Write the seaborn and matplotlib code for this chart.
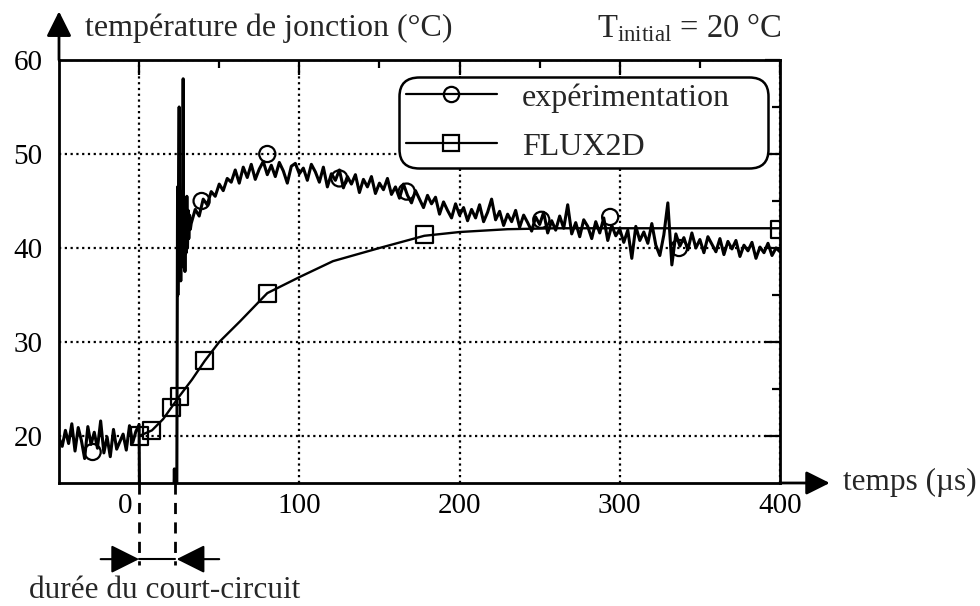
import numpy as np
import pandas as pd
import seaborn as sns
import matplotlib.pyplot as plt
import matplotlib.transforms as mtransforms
from matplotlib.lines import Line2D

sns.set_theme(style="white")
plt.rcParams["font.family"] = ["Liberation Serif", "DejaVu Serif"]
plt.rcParams["mathtext.fontset"] = "custom"
plt.rcParams["mathtext.rm"] = "Liberation Serif"
plt.rcParams["mathtext.it"] = "Liberation Serif:italic"

# measured junction temperature (noisy scope trace)
# before the short-circuit, sampled every 2 us from -50 to -2
pre_t = np.arange(-50, -1, 2)
pre_y = [19.8, 18.9, 20.6, 19.2, 21.3, 18.4, 20.9, 19.5, 17.6, 21.0,
         19.1, 20.4, 18.7, 21.6, 18.2, 19.9, 17.8, 20.7, 18.6, 19.4,
         20.2, 18.5, 21.1, 19.3, 20.5]

# during / just after the short-circuit (signal off-scale then spikes)
sc_t = [0, 0.3, 21.5, 22.0, 22.5, 23.5, 24.0, 24.2, 24.6, 25.0, 25.3,
        25.6, 26.0, 26.4, 26.8, 27.2, 27.5, 27.8, 28.2, 28.6, 29.0, 29.4,
        29.8, 30.2, 30.6, 31.0, 31.5, 32.0]
sc_y = [21.2, 12.0, 12.0, 16.5, 12.0, 12.0, 46.5, 35.0, 44.0, 55.0, 37.0,
        46.0, 36.5, 45.5, 38.0, 47.0, 58.0, 39.0, 45.0, 37.5, 44.5, 39.5,
        45.5, 40.0, 44.0, 41.0, 43.5, 42.0]

# after the short-circuit, sampled every 2.5 us from 32.5 to 400
post_t = np.arange(32.5, 400.1, 2.5)
post_y = [42.6, 44.1, 43.4, 45.2, 44.6, 46.0, 45.5, 46.8, 46.1, 47.4,
          47.0, 48.3, 46.9, 48.6, 47.5, 48.9, 47.3, 48.4, 49.2, 47.8,
          48.8, 47.6, 49.1, 48.2, 46.9, 48.7, 49.0, 47.9, 48.5, 47.2,
          48.9, 48.1, 47.0, 48.6, 46.5, 47.9, 47.2, 48.3, 46.4, 47.6,
          46.8, 47.8, 45.9, 47.3, 46.5, 47.6, 45.8, 46.9, 46.2, 47.4,
          45.7, 46.5, 45.3, 46.8, 45.6, 44.8, 46.1, 45.2, 44.3, 45.6,
          44.7, 45.4, 43.6, 44.9, 44.0, 43.2, 44.7, 43.5, 44.3, 42.9,
          44.1, 43.2, 44.6, 42.8, 43.8, 45.2, 43.0, 43.9, 42.4, 43.6,
          42.8, 44.0, 42.2, 43.5, 42.7, 41.8, 43.3, 42.5, 43.8, 41.6,
          42.9, 41.9, 43.4, 42.1, 44.6, 41.5, 42.7, 41.2, 43.0, 42.3,
          41.0, 42.8, 41.6, 43.2, 40.8, 42.4, 41.3, 42.0, 40.6, 41.9,
          38.9, 42.3, 40.8, 41.7, 40.5, 42.6, 40.3, 39.2, 41.4, 44.8,
          38.2, 41.5, 40.2, 41.1, 39.8, 41.6, 40.0, 40.9, 39.5, 41.2,
          40.4, 39.6, 41.0, 39.3, 40.7, 39.9, 40.8, 39.1, 40.3, 39.7,
          40.6, 38.9, 40.1, 39.5, 40.5, 39.2, 40.0, 39.6]

# circle markers of the experimental curve
exp_mk_t = [-29, 39, 80, 125, 167, 251, 294, 337]
exp_mk_y = [18.3, 45.0, 50.0, 47.4, 46.0, 43.0, 43.3, 40.0]

# FLUX2D simulation
sim_t = [0, 8, 15, 20, 25, 33, 41, 50, 63, 80, 100, 121, 150, 178,
         200, 230, 260, 300, 350, 400]
sim_y = [20.0, 20.6, 21.8, 23.0, 24.2, 26.0, 28.0, 30.0, 32.2, 35.2,
         36.9, 38.6, 40.0, 41.3, 41.7, 42.0, 42.1, 42.1, 42.1, 42.1]
sim_mk_t = [0, 8, 20, 25, 41, 80, 178, 400]
sim_mk_y = [20.0, 20.6, 23.0, 24.2, 28.0, 35.2, 41.4, 42.0]

sc_start, sc_end = 0, 22.4

exp = pd.DataFrame({"t": np.concatenate([pre_t, sc_t, post_t]),
                    "T": np.concatenate([pre_y, sc_y, post_y])})
sim = pd.DataFrame({"t": sim_t, "T": sim_y})

fig = plt.figure(figsize=(9.8, 6.06), dpi=100)
ax = fig.add_axes([59 / 980, 1 - 483 / 606, 721 / 980, 423 / 606])

sns.lineplot(data=sim, x="t", y="T", color="black", lw=1.7, ax=ax)
sns.scatterplot(x=sim_mk_t, y=sim_mk_y, marker="s", s=150, fc="none",
                ec="black", linewidth=1.6, ax=ax, zorder=3)
sns.lineplot(data=exp, x="t", y="T", color="black", lw=2.2, sort=False,
             estimator=None, ax=ax, zorder=4)
sns.scatterplot(x=exp_mk_t, y=exp_mk_y, marker="o", s=135, fc="none",
                ec="black", linewidth=1.6, ax=ax, zorder=5)

ax.set_xlim(-50, 400)
ax.set_ylim(15, 60)
ax.set_xlabel("")
ax.set_ylabel("")
ax.set_xticks([0, 100, 200, 300, 400])
ax.set_xticks([50, 150, 250, 350], minor=True)
ax.set_yticks([20, 30, 40, 50, 60])
ax.set_yticks([25, 35, 45, 55], minor=True)
ax.tick_params(which="both", direction="in", top=True, right=True,
               width=1.6, color="black", labelsize=21, labelcolor="black")
ax.tick_params(which="major", length=11)
ax.tick_params(which="minor", length=6)
ax.tick_params(axis="x", pad=7)
ax.tick_params(axis="y", pad=12)
ax.grid(True, which="major", color="black", lw=1.6, ls=(0, (1, 1.6)))
for sp in ax.spines.values():
    sp.set_color("black")
    sp.set_linewidth(2)

# the "0" label sits left of the dashed marker line
zero_lbl = ax.get_xticklabels()[0]
zero_lbl.set_transform(zero_lbl.get_transform() +
                       mtransforms.ScaledTranslation(-0.14, 0, fig.dpi_scale_trans))

# axis arrows
ax.annotate("", xy=(0, 1.115), xytext=(0, 1.0), xycoords="axes fraction",
            arrowprops=dict(arrowstyle="-|>", mutation_scale=38, lw=2,
                            color="black", shrinkA=0, shrinkB=0))
ax.annotate("", xy=(1.069, 0), xytext=(1.0, 0), xycoords="axes fraction",
            arrowprops=dict(arrowstyle="-|>", mutation_scale=36, lw=2,
                            color="black", shrinkA=0, shrinkB=0))

# short-circuit duration marker below the axis
trans = mtransforms.blended_transform_factory(ax.transData, ax.transAxes)
for xv in (sc_start, sc_end):
    ax.plot([xv, xv], [0, -0.194], transform=trans, color="black", lw=2,
            ls=(0, (4, 3)), clip_on=False)
ax.plot([sc_start, sc_end], [-0.18, -0.18], transform=trans, color="black",
        lw=1.5, clip_on=False)
ax.annotate("", xy=(sc_start, -0.18), xytext=(-24, -0.18), xycoords=trans,
            arrowprops=dict(arrowstyle="-|>", mutation_scale=44, lw=1.5,
                            color="black", shrinkA=0, shrinkB=0))
ax.annotate("", xy=(sc_end + 1, -0.18), xytext=(50, -0.18), xycoords=trans,
            arrowprops=dict(arrowstyle="-|>", mutation_scale=44, lw=1.5,
                            color="black", shrinkA=0, shrinkB=0))

# texts
fig.text(85 / 980, 1 - 28 / 606, "température de jonction (°C)", fontsize=23,
         ha="left", va="center")
fig.text(782 / 980, 1 - 28 / 606, r"T$_{\mathrm{initial}}$ = 20 °C",
         fontsize=23.5, ha="right", va="center")
fig.text(843 / 980, 1 - 482 / 606, "temps (µs)", fontsize=22.5, ha="left",
         va="center")
fig.text(165 / 980, 1 - 590 / 606, "durée du court-circuit", fontsize=22.5,
         ha="center", va="center")

# legend
handles = [Line2D([], [], color="black", lw=1.6, marker="o", mfc="none",
                  mec="black", ms=11, mew=1.6),
           Line2D([], [], color="black", lw=1.6, marker="s", mfc="none",
                  mec="black", ms=12, mew=1.6)]
leg = ax.legend(handles, ["expérimentation", "FLUX2D"], loc="upper left",
                bbox_to_anchor=(0.481, 0.9456, 0.494, 0.0), mode="expand",
                borderaxespad=0, fontsize=23, handlelength=2.85,
                handletextpad=0.78, labelspacing=0.62, borderpad=0.0,
                fancybox=True, framealpha=1, edgecolor="black")
leg.get_frame().set_linewidth(1.8)
leg.get_frame().set_boxstyle("round,pad=0.2,rounding_size=0.6")
leg.set_zorder(10)

fig.savefig("out.png", dpi=100)
